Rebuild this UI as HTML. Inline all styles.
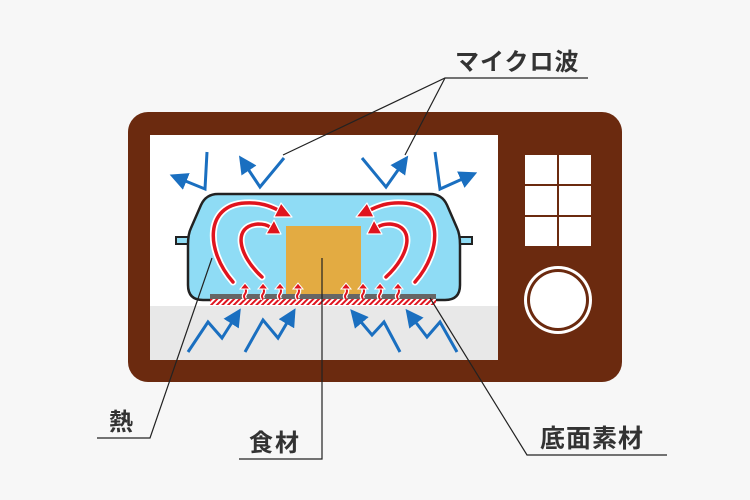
<!DOCTYPE html>
<html><head><meta charset="utf-8"><style>
html,body{margin:0;padding:0;background:#f7f7f7;}
svg{display:block}
text{font-family:"Liberation Sans","Noto Sans CJK JP",sans-serif;fill:#333;font-weight:bold}
</style></head><body>
<svg width="750" height="500" viewBox="0 0 750 500" xmlns="http://www.w3.org/2000/svg">
<defs>
<marker id="ab" markerWidth="6" markerHeight="6" refX="3" refY="3" orient="auto" markerUnits="strokeWidth"><path d="M0,0 L6,3 L0,6 Z" fill="#1a6fc0"/></marker>
<pattern id="hatch" width="4" height="4" patternUnits="userSpaceOnUse" patternTransform="rotate(45)"><rect width="4" height="4" fill="#fff"/><rect width="2" height="4" fill="#e0141e"/></pattern>
</defs>
<rect x="128" y="112" width="494" height="270" rx="20" fill="#6b2a0f"/>
<rect x="150" y="135" width="348" height="225" fill="#fff"/>
<rect x="150" y="306" width="348" height="54" fill="#e8e8e8"/>
<g fill="#fff">
<rect x="525" y="155" width="32" height="29"/><rect x="559" y="155" width="32" height="29"/>
<rect x="525" y="186" width="32" height="29"/><rect x="559" y="186" width="32" height="29"/>
<rect x="525" y="217" width="32" height="29"/><rect x="559" y="217" width="32" height="29"/>
</g>
<circle cx="558" cy="300" r="34" fill="#fff"/><circle cx="558" cy="300" r="31" fill="#6b2a0f"/><circle cx="558" cy="300" r="28" fill="#fff"/>
<!-- dish -->
<rect x="176" y="237" width="16" height="7" fill="#8fdcf5" stroke="#222" stroke-width="2"/>
<rect x="456" y="237" width="16" height="7" fill="#8fdcf5" stroke="#222" stroke-width="2"/>
<path d="M218,194 L430,194 Q442,194 447,205 L457,228 Q460,234 460,245 L460,285 Q460,300 445,300 L203,300 Q188,300 188,285 L188,245 Q188,234 191,228 L201,205 Q206,194 218,194 Z" fill="#8fdcf5" stroke="#222" stroke-width="2.5"/>
<rect x="286" y="226" width="75" height="70" fill="#e3ab42"/>
<rect x="210" y="294" width="226" height="5" fill="#666"/>
<rect x="210" y="299" width="226" height="6" fill="url(#hatch)"/>
<!-- red arrows -->
<g fill="none" stroke="#fff" stroke-width="7" stroke-linecap="round">
<path d="M233,282 C205,250 205,205 245,203 C260,202 270,206 278,210"/>
<path d="M262,277 C238,255 232,226 258,224 Q266,224 270,227"/>
<path d="M415,282 C443,250 443,205 403,203 C388,202 378,206 370,210"/>
<path d="M386,277 C410,255 416,226 390,224 Q382,224 378,227"/>
</g>
<g fill="none" stroke="#e0141e" stroke-width="3.5" stroke-linecap="round">
<path d="M233,282 C205,250 205,205 245,203 C260,202 270,206 278,210"/>
<path d="M262,277 C238,255 232,226 258,224 Q266,224 270,227"/>
<path d="M415,282 C443,250 443,205 403,203 C388,202 378,206 370,210"/>
<path d="M386,277 C410,255 416,226 390,224 Q382,224 378,227"/>
</g>
<g fill="#e0141e" stroke="#fff" stroke-width="1.2" stroke-linejoin="round">
<path d="M292,217 L281,203 L274,217Z"/>
<path d="M281,234 L274,220 L266,234Z"/>
<path d="M356,217 L367,203 L374,217Z"/>
<path d="M367,234 L374,220 L382,234Z"/>
</g>
<g fill="none" stroke="#fff" stroke-width="4.5">
<path d="M245,299 q-2,-3 0,-5 q2,-3 0,-6"/><path d="M263,299 q-2,-3 0,-5 q2,-3 0,-6"/><path d="M280,299 q-2,-3 0,-5 q2,-3 0,-6"/><path d="M298,299 q-2,-3 0,-5 q2,-3 0,-6"/>
<path d="M346,299 q-2,-3 0,-5 q2,-3 0,-6"/><path d="M363,299 q-2,-3 0,-5 q2,-3 0,-6"/><path d="M380,299 q-2,-3 0,-5 q2,-3 0,-6"/><path d="M398,299 q-2,-3 0,-5 q2,-3 0,-6"/>
</g>
<g fill="none" stroke="#e0141e" stroke-width="2">
<path d="M245,299 q-2,-3 0,-5 q2,-3 0,-6"/><path d="M263,299 q-2,-3 0,-5 q2,-3 0,-6"/><path d="M280,299 q-2,-3 0,-5 q2,-3 0,-6"/><path d="M298,299 q-2,-3 0,-5 q2,-3 0,-6"/>
<path d="M346,299 q-2,-3 0,-5 q2,-3 0,-6"/><path d="M363,299 q-2,-3 0,-5 q2,-3 0,-6"/><path d="M380,299 q-2,-3 0,-5 q2,-3 0,-6"/><path d="M398,299 q-2,-3 0,-5 q2,-3 0,-6"/>
</g>
<g fill="#e0141e" stroke="#fff" stroke-width="1">
<path d="M240,289 L245,283 L250,289Z"/><path d="M258,289 L263,283 L268,289Z"/><path d="M275,289 L280,283 L285,289Z"/><path d="M293,289 L298,283 L303,289Z"/>
<path d="M341,289 L346,283 L351,289Z"/><path d="M358,289 L363,283 L368,289Z"/><path d="M375,289 L380,283 L385,289Z"/><path d="M393,289 L398,283 L403,289Z"/>
</g>
<!-- blue arrows -->
<g fill="none" stroke="#1a6fc0" stroke-width="3" stroke-linejoin="miter">
<polyline points="207,152 205,189 178,178" marker-end="url(#ab)"/>
<polyline points="284,158 260,187 244,163" marker-end="url(#ab)"/>
<polyline points="362,158 386,187 403,163" marker-end="url(#ab)"/>
<polyline points="435,152 440,189 469,176" marker-end="url(#ab)"/>
<polyline points="188,352 208,322 222,338 236,316" marker-end="url(#ab)"/>
<polyline points="245,352 263,320 278,338 291,316" marker-end="url(#ab)"/>
<polyline points="400,352 384,322 372,335 356,316" marker-end="url(#ab)"/>
<polyline points="457,352 440,322 427,337 411,316" marker-end="url(#ab)"/>
</g>
<!-- leader lines -->
<g fill="none" stroke="#222" stroke-width="1.2">
<polyline points="283,155 445,78 588,78"/>
<line x1="445" y1="78" x2="405" y2="155"/>
<polyline points="212,258 150,438 97,438"/>
<polyline points="322,258 322,459 239,459"/>
<polyline points="430,298 527,455 667,455"/>
</g>
<text x="455" y="70" font-size="24" letter-spacing="1">マイクロ波</text>
<text x="109" y="430" font-size="24">熱</text>
<text x="249" y="451" font-size="24" letter-spacing="2">食材</text>
<text x="540" y="447" font-size="25" letter-spacing="1">底面素材</text>
</svg>
</body></html>
